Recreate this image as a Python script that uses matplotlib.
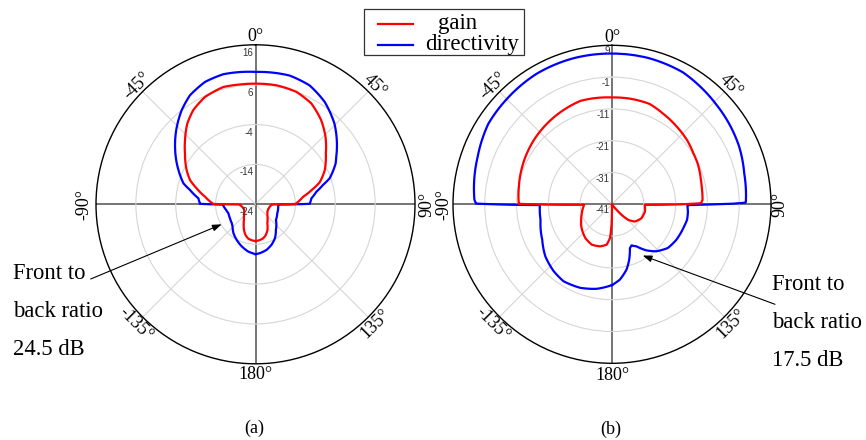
import numpy as np
import matplotlib
matplotlib.use("Agg")
import matplotlib.pyplot as plt
from matplotlib.lines import Line2D
from matplotlib.patches import Rectangle
from matplotlib.transforms import offset_copy

# ---- pattern data (deg clockwise from boresight, dB) ----
# (a) gain
ang_gain_a = [-180, -175, -168, -162, -155, -150, -143, -132, -122, -111, -100, -92,
              -90.5, -89.5, -81.4, -74.8, -69.7, -63.5, -54.2, -47.7, -40.2, -33.5,
              -25.2, -15.4, -7.4, 0, 10, 20, 29, 38, 46, 54, 64, 71, 76, 81, 88.5,
              89.5, 90.5, 92, 100, 111, 122, 132, 140, 148, 155, 162, 168, 175, 180]
gain_a = [-14.8, -14.9, -15.2, -15.9, -17.1, -18.1, -19.2, -20.2, -20.7, -20.9, -20.6, -20.1,
          -20.1, -13.4, -11.2, -8.7, -6.5, -4.7, -2.2, -0.1, 2.5, 4.3,
          5.75, 6.5, 6.3, 6.25, 6.3, 6.0, 4.9, 2.75, 0.4, -2.2, -4.7, -6.95, -9.6, -11.9, -13.75,
          -13.8, -20.0, -20.0, -20.4, -20.6, -20.5, -20.0, -19.3, -18.4, -16.9, -15.8, -15.2, -14.9, -14.8]

# (a) directivity
ang_dir_a = [-180, -171.4, -161.9, -152.2, -142.6, -134, -128.6, -118.8, -108.3, -100.9, -93,
             -90.5, -89.5, -84, -77.7, -73.8, -66, -56, -47, -38.1, -31, -22.4, -13.9, 0,
             14.9, 24.5, 34, 44.4, 53.2, 59.5, 63, 70.7, 74, 78.3, 83.9, 89.5, 90.5, 93.3,
             112.4, 127.4, 141.4, 150.2, 158.3, 166.3, 174.8, 180]
dir_a = [-11.5, -12.0, -12.9, -13.9, -14.9, -16.0, -16.4, -16.7, -16.85, -16.5, -15.95,
         -16.0, -10.1, -9.6, -7.2, -5.2, -2.85, 0.3, 3.2, 6.0, 7.9, 9.2, 9.6, 9.2,
         9.4, 8.75, 7.0, 4.3, 1.5, -0.5, -1.45, -4.3, -6.4, -8.4, -9.9, -10.4, -18.3, -18.3,
         -18.1, -17.55, -15.8, -14.2, -13.1, -12.25, -11.7, -11.5]

# (b) gain
ang_gain_b = [-180, -179, -176.6, -172.5, -164.2, -153.4, -141.5, -125.8, -116.8, -106.5, -94.7,
              -91, -90.3, -89.7, -79.3, -67.4, -50.7, -33.8, -17, 0, 10, 20.6, 29.6, 39.8,
              50, 57.9, 65, 74.5, 80, 87.2, 89.3, 90, 91, 102.5, 115.3, 127, 133.8, 137.8,
              140.5, 145, 160, 175, 180]
gain_b = [-41, -35.1, -30.4, -28.2, -27.25, -26.8, -27.5, -29.1, -30.15, -31.1, -32.0,
          -32.2, -20.6, -11.7, -11.2, -10.4, -9.2, -8.1, -7.0, -7.4, -7.3, -7.3, -8.3, -9.2,
          -10.0, -10.8, -11.2, -12.0, -12.3, -12.5, -13.0, -19.2, -30.7, -30.4, -30.75, -32.0, -33.9, -36.5,
          -38.7, -41, -41, -41, -41]

# (b) directivity
ang_dir_b = [-180, -169.8, -159.1, -147.8, -138.9, -128, -116.9, -102.3, -91.3, -90.6, -90.2,
             -89.7, -88, -80, -70.6, -57, -45, -30, -15, 0, 14, 28.3, 36.4, 46, 55.5, 65.7,
             76.9, 88.9, 89.3, 89.7, 90, 90.3, 90.6, 96, 101.6, 107.4, 118.9, 128, 136.7,
             143.2, 149.8, 154.6, 157.8, 162.7, 167.4, 174, 180]
dir_b = [-15.6, -14.0, -12.9, -12.4, -13.1, -14.4, -16.4, -18.0, -18.3, -18.3, -8.0,
         1.8, 2.3, 3.0, 3.8, 5.4, 5.8, 6.4, 6.5, 6.4, 6.4, 6.1, 5.3, 4.4, 3.7, 2.9,
         1.7, 1.1, 1.0, -3.0, -8.6, -13.5, -17.3, -17.0, -16.9, -17.3, -17.9, -18.7, -20.7,
         -22.9, -25.7, -26.7, -26.1, -22.8, -20.0, -17.2, -15.6]

for a, v in [(ang_gain_a, gain_a), (ang_dir_a, dir_a), (ang_gain_b, gain_b), (ang_dir_b, dir_b)]:
    assert len(a) == len(v)

# axis ranges / ring labels
rlim_a = (-24, 16)
rings_a = [-14, -4, 6]
rlabels_a = [16, 6, -4, -14, -24]
rlim_b = (-41, 9)
rings_b = [-31, -21, -11, -1]
rlabels_b = [9, -1, -11, -21, -31, -41]

theta_ticks = [0, 45, 90, 135, 180, -135, -90, -45]
theta_texts = ['0°', '45°', '90°', '135°', '180°', '-135°', '-90°', '-45°']

W, H = 866, 440
SERIF = 'Liberation Serif'
SANS = 'Liberation Sans'

fig = plt.figure(figsize=(W / 100, H / 100), dpi=100)


def fpx(x, y):
    # pixel position measured from the top-left corner -> figure fraction
    return x / W, 1 - y / H


def make_panel(cx, cy, rad, rlim, rings, rlabels, lab_dy, tick_off):
    ax = fig.add_axes([(cx - rad) / W, 1 - (cy + rad) / H, 2 * rad / W, 2 * rad / H],
                      projection='polar')
    ax.set_theta_zero_location('N')
    ax.set_theta_direction(-1)
    ax.set_ylim(*rlim)
    ax.set_xticks(np.radians(np.arange(0, 360, 45)))
    ax.set_xticklabels([''] * 8)
    ax.set_yticks(rings)
    ax.set_yticklabels([''] * len(rings))
    ax.grid(True, color='#d6d6d6', lw=0.8)
    for i, gl in enumerate(ax.xaxis.get_gridlines()):
        if i % 2 == 0:
            gl.set_color('#505050')
            gl.set_linewidth(1.1)
    ax.spines['polar'].set_color('black')
    ax.spines['polar'].set_linewidth(1.0)

    span = rlim[1] - rlim[0]
    for a, s in zip(theta_ticks, theta_texts):
        rot = (-a) % 180
        if rot > 90:
            rot -= 180
        r = rlim[1] + tick_off[abs(a)] * span / rad
        ax.text(np.radians(a), r, s, rotation=rot, rotation_mode='anchor',
                ha='center', va='center', fontsize=13, family=SERIF, clip_on=False)

    tr = offset_copy(ax.transData, fig=fig, x=-2, y=lab_dy, units='dots')
    for v in rlabels:
        ax.text(0, v, str(v), transform=tr, ha='right', va='center',
                fontsize=7, color='#333333', family=SANS)
    return ax


def polar_line(ax, ang, vals, color):
    line, = ax.plot(np.radians(ang), vals, color=color, lw=1.6)
    # follow the polar grid between samples instead of drawing straight chords
    line.get_path()._interpolation_steps = 40
    return line


ax_a = make_panel(255.5, 204.3, 159.5, rlim_a, rings_a, rlabels_a, -8,
                  {0: 8, 45: 8.5, 90: 12, 135: 10, 180: 11})
ax_b = make_panel(612, 204.3, 159, rlim_b, rings_b, rlabels_b, -6,
                  {0: 8, 45: 8.5, 90: 9, 135: 10, 180: 12})

for ax, (ag, g), (ad, d) in [(ax_a, (ang_gain_a, gain_a), (ang_dir_a, dir_a)),
                             (ax_b, (ang_gain_b, gain_b), (ang_dir_b, dir_b))]:
    polar_line(ax, ad, d, 'blue')
    polar_line(ax, ag, g, 'red')

# legend box
x0, y0 = fpx(364, 55)
fig.add_artist(Rectangle((x0, y0), 160 / W, 46 / H, transform=fig.transFigure,
                         fill=False, ec='#333333', lw=0.9))
for yy, col, txt, tx, base in [(24, 'red', 'gain', 438, 29), (45, 'blue', 'directivity', 425, 50)]:
    fig.add_artist(Line2D([378 / W, 413 / W], [1 - yy / H] * 2, transform=fig.transFigure,
                          color=col, lw=1.6))
    fig.text(tx / W, 1 - base / H, txt, fontsize=16.5, family=SERIF, va='baseline')

# front-to-back annotations
arrow = dict(arrowstyle='-|>,head_length=0.5,head_width=0.18', color='black', lw=0.8,
             mutation_scale=11, shrinkA=0, shrinkB=0)
fig.add_artist(plt.Annotation('', xy=fpx(221.7, 224.3), xycoords='figure fraction',
                              xytext=fpx(90.7, 279), textcoords='figure fraction',
                              arrowprops=arrow))
fig.add_artist(plt.Annotation('', xy=fpx(642.7, 255.5), xycoords='figure fraction',
                              xytext=fpx(775, 304.3), textcoords='figure fraction',
                              arrowprops=arrow))
for x, bases, db in [(12.7, (279, 317, 355), '24.5 dB'), (772, (290, 328, 366), '17.5 dB')]:
    for b, line in zip(bases, ['Front to', 'back ratio', db]):
        fig.text(x / W, 1 - b / H, line, fontsize=16.3, family=SERIF, va='baseline')

fig.text(254 / W, 1 - 428 / H, '(a)', ha='center', va='center', fontsize=13, family=SERIF)
fig.text(610.5 / W, 1 - 429 / H, '(b)', ha='center', va='center', fontsize=13, family=SERIF)

fig.savefig('out.png', dpi=100)
